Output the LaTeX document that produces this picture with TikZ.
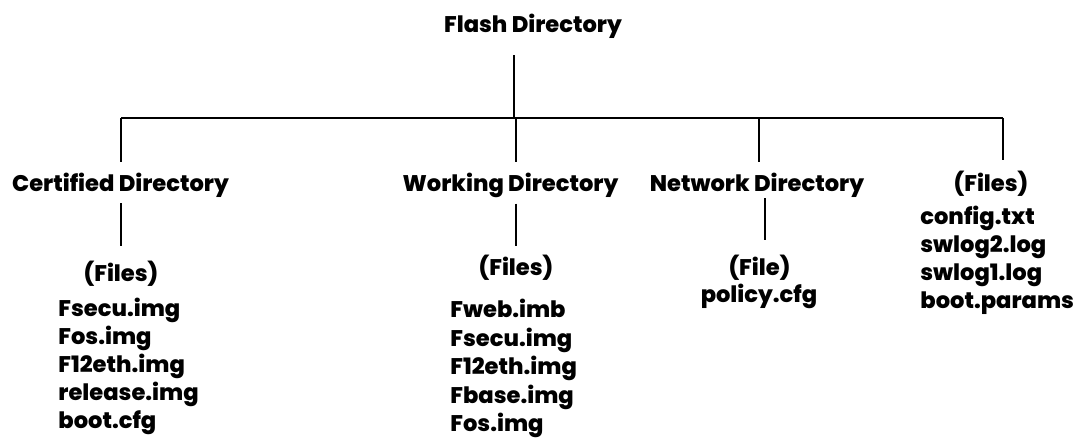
\documentclass[tikz,border=0pt]{standalone}
\usepackage{fontspec}
\setmainfont{Poppins}[BoldFont={Poppins ExtraBold}]
\usetikzlibrary{positioning}
\usetikzlibrary{calc}

\tikzset{
  heading/.style={font=\bfseries\fontsize{11.3}{12}\selectfont, inner sep=0pt, anchor=base},
  entry/.style={heading, anchor=base west},
  wire/.style={line width=1pt, color=black}
}

\begin{document}
\begin{tikzpicture}[x=0.5pt, y=-0.5pt]
  \useasboundingbox (0,0) rectangle (1078,438);

  % top level
  \node[heading] (flash) at (533,33) {Flash Directory};
  \coordinate (j-root)  at (514,118);
  \coordinate (j-cert)  at (121,118);
  \coordinate (j-work)  at (516,118);
  \coordinate (j-net)   at (759,118);
  \coordinate (j-files) at (1003,118);
  \coordinate (net-drop) at (765,0);

  % second level
  \node[heading] (cert)   at (120.5,192) {Certified Directory};
  \node[heading] (work)   at (510.5,192) {Working Directory};
  \node[heading] (net)    at (757,192)   {Network Directory};
  \node[heading] (rfiles) at (991,192)   {(Files)};

  % contents
  \node[heading] (certfiles) at (121,282)   {(Files)};
  \node[heading] (workfiles) at (516,276)   {(Files)};
  \node[heading] (netfile)   at (759.5,276) {(File)};
  \node[heading] (policy)    at (759,303)   {policy.cfg};

  \foreach \f [count=\i from 0] in {Fsecu.img, Fos.img, F12eth.img, release.img, boot.cfg}
    \node[entry] (cert-\i) at (58,{317+28*\i}) {\f};
  \foreach \f [count=\i from 0] in {Fweb.imb, Fsecu.img, F12eth.img, Fbase.img, Fos.img}
    \node[entry] (work-\i) at (450,{318+28.5*\i}) {\f};
  \foreach \f [count=\i from 0] in {config.txt, swlog2.log, swlog1.log, boot.params}
    \node[entry] (rfiles-\i) at (920,{225+28*\i}) {\f};

  % tree lines
  \draw[wire] (j-cert) -- (j-files);
  \draw[wire, shorten <=8pt] (flash.south -| j-root) -- (j-root);
  \draw[wire, shorten >=5.5pt] (j-cert)  -- (j-cert |- cert.north);
  \draw[wire, shorten >=5.5pt] (j-work)  -- (j-work |- work.north);
  \draw[wire, shorten >=5.5pt] (j-net)   -- (j-net |- net.north);
  \draw[wire, shorten >=5.5pt] (j-files) -- (j-files |- rfiles.north);

  \draw[wire, shorten <=2.5pt, shorten >=7.5pt] (cert.south -| j-cert) -- (j-cert |- certfiles.north);
  \draw[wire, shorten <=2.5pt, shorten >=4.5pt] (work.south -| workfiles) -- (workfiles.north);
  \draw[wire, shorten <=0pt, shorten >=7.5pt] (net.south -| net-drop) -- (netfile.north -| net-drop);
\end{tikzpicture}
\end{document}
